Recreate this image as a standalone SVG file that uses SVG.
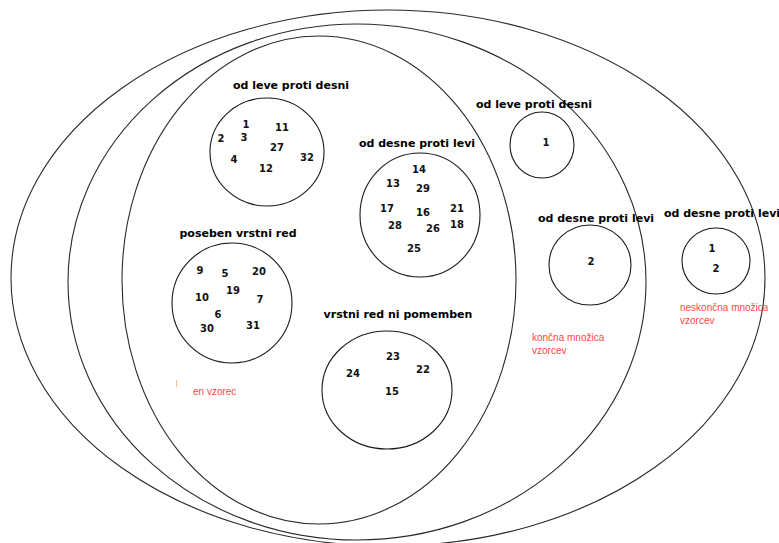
<svg xmlns="http://www.w3.org/2000/svg" width="779" height="543" viewBox="0 0 779 543">
<style>
.big{fill:none;stroke:#2a2a2a;stroke-width:1.1}
.set{fill:none;stroke:#1a1a1a;stroke-width:1.1}
.lbl{font-family:"DejaVu Sans",Verdana,sans-serif;font-weight:bold;font-size:11px;fill:#000;text-anchor:middle}
.num{font-family:"DejaVu Sans",Verdana,sans-serif;font-weight:bold;font-size:10px;fill:#111;text-anchor:middle}
.note{font-family:"Liberation Sans",Arial,sans-serif;font-size:10px;fill:#ff4646}
</style>
<rect width="779" height="543" fill="#fff"/>
<g id="neskoncna">
<ellipse class="big" cx="388" cy="278" rx="377" ry="268"/>
</g>
<g id="koncna">
<ellipse class="big" cx="357" cy="282" rx="289" ry="258"/>
</g>
<g id="en-vzorec">
<ellipse class="big" cx="319" cy="280" rx="197" ry="244"/>
</g>
<g id="levo-desno-1">
<ellipse class="set" cx="267" cy="152" rx="57" ry="54"/>
<text class="lbl" x="291" y="89">od leve proti desni</text>
<text class="num" x="246" y="128">1</text>
<text class="num" x="221" y="142">2</text>
<text class="num" x="244" y="141">3</text>
<text class="num" x="282" y="131">11</text>
<text class="num" x="277" y="151">27</text>
<text class="num" x="307" y="161">32</text>
<text class="num" x="234" y="163">4</text>
<text class="num" x="266" y="172">12</text>
</g>
<g id="desno-levo-1">
<ellipse class="set" cx="420" cy="215" rx="60" ry="62"/>
<text class="lbl" x="417" y="147">od desne proti levi</text>
<text class="num" x="419" y="173">14</text>
<text class="num" x="393" y="187">13</text>
<text class="num" x="423" y="192">29</text>
<text class="num" x="387" y="212">17</text>
<text class="num" x="423" y="216">16</text>
<text class="num" x="457" y="212">21</text>
<text class="num" x="395" y="229">28</text>
<text class="num" x="433" y="232">26</text>
<text class="num" x="457" y="228">18</text>
<text class="num" x="414" y="252">25</text>
</g>
<g id="poseben-red">
<ellipse class="set" cx="232" cy="303" rx="60" ry="60"/>
<text class="lbl" x="238" y="237">poseben vrstni red</text>
<text class="num" x="200" y="274">9</text>
<text class="num" x="225" y="277">5</text>
<text class="num" x="259" y="275">20</text>
<text class="num" x="233" y="294">19</text>
<text class="num" x="202" y="301">10</text>
<text class="num" x="260" y="303">7</text>
<text class="num" x="218" y="318">6</text>
<text class="num" x="207" y="332">30</text>
<text class="num" x="253" y="329">31</text>
</g>
<g id="red-ni-pomemben">
<ellipse class="set" cx="387" cy="390" rx="65" ry="59"/>
<text class="lbl" x="398" y="318">vrstni red ni pomemben</text>
<text class="num" x="393" y="360">23</text>
<text class="num" x="353" y="377">24</text>
<text class="num" x="423" y="373">22</text>
<text class="num" x="392" y="395">15</text>
</g>
<g id="levo-desno-2">
<ellipse class="set" cx="542" cy="145" rx="32" ry="33"/>
<text class="lbl" x="534" y="108">od leve proti desni</text>
<text class="num" x="546" y="146">1</text>
</g>
<g id="desno-levo-2">
<ellipse class="set" cx="590" cy="265" rx="41" ry="40"/>
<text class="lbl" x="596" y="222">od desne proti levi</text>
<text class="num" x="591" y="265">2</text>
</g>
<g id="desno-levo-3">
<ellipse class="set" cx="716" cy="261" rx="34" ry="33"/>
<text class="lbl" x="722" y="217">od desne proti levi</text>
<text class="num" x="712" y="252">1</text>
<text class="num" x="716" y="272">2</text>
</g>
<g id="notes">
<line x1="176.5" y1="380" x2="176.5" y2="387" stroke="#f3c48c" stroke-width="1"/>
<text class="note" x="193" y="395">en vzorec</text>
<text class="note" x="532" y="341">končna množica</text>
<text class="note" x="532" y="354">vzorcev</text>
<text class="note" x="680" y="311">neskončna množica</text>
<text class="note" x="680" y="324">vzorcev</text>
</g>
</svg>
